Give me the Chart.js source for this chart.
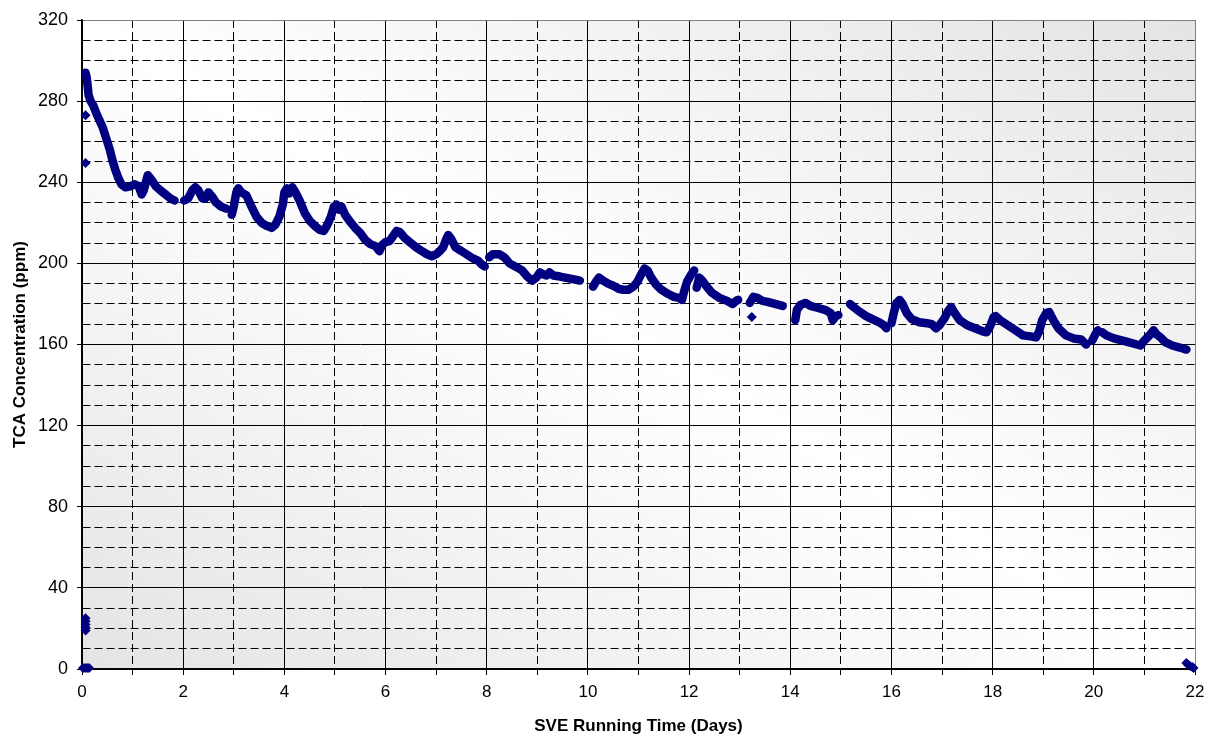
<!DOCTYPE html>
<html lang="en">
<head>
  <meta charset="UTF-8" />
  <title>TCA Concentration vs SVE Running Time</title>
  <script src="https://cdn.jsdelivr.net/npm/chart.js"></script>
  <style>
    body { margin: 0; background: #fff; }
  </style>
</head>
<body>
  <canvas id="tcaChart" width="1209" height="737"></canvas>

  <script>
    // Main logged trace (days, ppm); null marks a break in logging.
    const traceDays = [
      0.07, 0.09, 0.11, 0.13, 0.17, 0.22, 0.3, 0.41, 0.5, 0.55, 0.6, 0.66, 0.72, 0.78, 0.86, 0.95, 1.04, 1.12, 1.18, 1.22, 1.3, 1.38, 1.46, 1.55, 1.65, 1.75, 1.83, null,
      2.02, 2.1, 2.18, 2.24, 2.3, 2.38, 2.44, 2.5, 2.57, 2.65, 2.75, 2.85, null,
      2.96, 3.0, 3.05, 3.09, 3.15, 3.25, 3.35, 3.45, 3.55, 3.65, 3.75, 3.82, 3.9, 3.97, 4.0, 4.05, 4.1, 4.16, 4.22, 4.3, 4.4, 4.5, 4.6, 4.7, 4.78, 4.85, 4.92, 4.98, 5.03, 5.08, 5.13, 5.2, 5.3, 5.4, 5.5, 5.6, 5.7, 5.8, 5.88, 5.93, 6.0,
      6.08, 6.15, 6.22, 6.28, 6.38, 6.5, 6.6, 6.72, 6.82, 6.92, 7.0, 7.07, 7.14, 7.2, 7.24, 7.3, 7.38, 7.47, 7.6, 7.72, 7.82, 7.9, 7.96, null,
      8.05, 8.12, 8.25, 8.35, 8.45, 8.6, 8.7, 8.8, 8.9, 8.98, 9.05, 9.12, 9.18, 9.24, 9.32, 9.45, 9.55, 9.65, 9.75, 9.84, null,
      10.1, 10.16, 10.22, 10.3, 10.4, 10.5, 10.6, 10.7, 10.8, 10.9, 10.98, 11.05, 11.12, 11.18, 11.25, 11.35, 11.45, 11.58, 11.7, 11.8, 11.86, 11.9, 11.96, 12.04, 12.1, null,
      12.15, 12.2, 12.26, 12.35, 12.45, 12.6, 12.75, 12.86, 12.93, 12.97, null,
      13.2, 13.27, 13.35, 13.45, 13.55, 13.7, 13.85, null,
      14.1, 14.13, 14.2, 14.3, 14.4, 14.55, 14.7, 14.8, 14.84, 14.9, 14.95, null,
      15.18, 15.25, 15.35, 15.5, 15.62, 15.75, 15.85, 15.9, null,
      16.0, 16.05, 16.1, 16.16, 16.22, 16.3, 16.4, 16.55, 16.7, 16.8, 16.88, 16.95, 17.05, 17.12, 17.18, 17.25, 17.35, 17.5, 17.65, 17.8, 17.88, 17.95, 18.02, 18.06, 18.15, 18.3, 18.45, 18.6, 18.75, 18.86, 18.92, 18.98, 19.06, 19.12, 19.2, 19.3, 19.45, 19.6, 19.75, 19.85, null,
      19.97, 20.03, 20.08, null,
      20.17, 20.25, 20.4, 20.55, 20.7, 20.85, 20.92, 21.0, 21.1, 21.18, 21.24, 21.32, 21.42, 21.55, 21.7, 21.83
    ];
    const tracePpm = [
      294, 292, 288, 283, 280, 278, 273, 267, 260, 256, 251, 246, 242, 239, 237.5, 238, 239, 238, 234, 236, 243.5, 241, 238, 236, 234, 232, 231, null,
      231, 232, 236, 237.5, 236, 232, 232, 235, 233, 230, 228, 227, null,
      224, 228, 235, 237, 235, 233.5, 228, 223, 220, 218.5, 217.5, 219, 223, 229, 235, 237, 234.5, 237.5, 235, 231, 225, 221, 218.5, 216.5, 216, 219, 223, 228, 229, 226.5, 228, 224, 220.5, 217.5, 215, 211.5, 209.5, 208.5, 206, 209, 210.5,
      211, 213.5, 216, 215.5, 212.5, 210, 208, 206, 204.5, 203.5, 204.5, 206, 208, 212, 214, 212, 208, 206.5, 204.5, 202.5, 201.5, 199.5, 198.5, null,
      203, 204.5, 204.5, 203, 200, 198, 196.5, 193.5, 191.5, 193, 195.5, 194.5, 194, 195.5, 194, 193.5, 193, 192.5, 192, 191.5, null,
      188.5, 191, 193, 191.5, 190, 189, 187.5, 187, 187, 188.5, 191, 194.5, 197.5, 196.5, 193, 189.5, 187, 185, 183.5, 183, 182, 186, 191, 194.5, 196.5, null,
      188, 193, 191.5, 188.5, 185.5, 183, 181.5, 180, 181.5, 182, null,
      180.5, 183.5, 183, 181.5, 181, 180, 179, null,
      172, 177, 179.5, 180.5, 179, 178, 177, 175.5, 172, 174, 174.5, null,
      180, 178.5, 176.5, 174, 172.5, 171, 169.5, 168, null,
      170.5, 176, 180.5, 182, 180, 175.5, 172.5, 171, 170.5, 170, 168, 169.5, 173, 176.5, 178.5, 175.5, 172, 169.5, 168, 166.5, 166, 169, 173.5, 174, 172, 169.5, 167, 164.5, 164, 163.5, 166.5, 172, 175.5, 176, 172, 168, 164.5, 163, 162.5, 160, null,
      162, 165, 167, null,
      166, 164.5, 163, 162, 161, 160, 159.5, 162, 164.5, 167, 165, 163.5, 161, 159.5, 158.5, 157.5
    ];

    // Stray single readings (start-up, shutdown and spikes).
    const strayDays = [0.07, 0.07, 0.02, 0.06, 0.1, 0.14, 0.07, 0.07, 0.07, 0.07, 0.07, 13.24, 21.83, 21.87, 21.9, 21.95, 21.97];
    const strayPpm = [273, 249.5, 0.5, 0.5, 0.5, 0.5, 19, 20.5, 22, 23.5, 25, 173.5, 3, 2, 1.5, 1, 0.5];

    const xMax = 22;
    const yMax = 320;
    const markColor = "#000080";
    const fontFamily = "'Liberation Sans', Arial, sans-serif";

    const tracePoints = traceDays.map((d, i) => ({ x: d, y: tracePpm[i] }));
    const strayPoints = strayDays.map((d, i) => ({ x: d, y: strayPpm[i] }));

    // Excel-style diagonal grey/white fill behind the plot.
    const plotBackground = {
      id: "plotBackground",
      beforeDraw(chart) {
        const { ctx, chartArea } = chart;
        const { left, top, width, height } = chartArea;
        ctx.save();
        ctx.translate(left, top);
        ctx.scale(width, height);
        const g = ctx.createLinearGradient(0, 1, 1, 0);
        g.addColorStop(0, "#e4e4e4");
        g.addColorStop(0.5, "#ffffff");
        g.addColorStop(1, "#e4e4e4");
        ctx.fillStyle = g;
        ctx.fillRect(0, 0, 1, 1);
        ctx.restore();
      }
    };

    const ctx = document.getElementById("tcaChart").getContext("2d");
    new Chart(ctx, {
      type: "scatter",
      data: {
        datasets: [
          {
            label: "TCA",
            data: tracePoints,
            showLine: true,
            spanGaps: false,
            borderColor: markColor,
            borderWidth: 8.5,
            borderCapStyle: "round",
            borderJoinStyle: "round",
            pointRadius: 0,
            fill: false
          },
          {
            label: "Stray",
            data: strayPoints,
            showLine: false,
            pointStyle: "rectRot",
            pointRadius: 5,
            backgroundColor: markColor,
            borderColor: markColor,
            borderWidth: 0,
            clip: false
          }
        ]
      },
      options: {
        responsive: false,
        animation: false,
        devicePixelRatio: 1,
        layout: { padding: { top: 20, right: 14, left: 0, bottom: 0 } },
        plugins: {
          legend: { display: false },
          tooltip: { enabled: false }
        },
        scales: {
          x: {
            type: "linear",
            min: 0,
            max: xMax,
            afterFit: (scale) => {
              scale.height = 68;
              scale.paddingRight = 0; // let layout padding set the right edge
            },
            ticks: {
              stepSize: 1,
              autoSkip: false,
              maxRotation: 0,
              padding: 7,
              color: "#000",
              font: { family: fontFamily, size: 17 },
              callback: (v) => (v % 2 === 0 ? v : "")
            },
            grid: {
              color: (c) => (c.tick && c.tick.value === xMax ? "#808080" : "#000"),
              lineWidth: 1,
              tickLength: 6,
              tickColor: "#000"
            },
            border: {
              display: true,
              color: "#000",
              width: 1.5,
              dash: (c) => (c.tick && c.tick.value % 2 !== 0 ? [8, 4] : [])
            },
            title: {
              display: true,
              text: "SVE Running Time (Days)",
              color: "#000",
              font: { family: fontFamily, size: 17, weight: "bold" },
              padding: { top: 3, bottom: 0 }
            }
          },
          y: {
            min: 0,
            max: yMax,
            afterFit: (scale) => { scale.width = 82; },
            ticks: {
              stepSize: 10,
              autoSkip: false,
              padding: 9,
              color: "#000",
              font: { family: fontFamily, size: 18 },
              callback: (v) => (v % 40 === 0 ? v : "")
            },
            grid: {
              color: (c) => (c.tick && c.tick.value === yMax ? "#808080" : "#000"),
              lineWidth: 1,
              tickLength: 5,
              tickColor: (c) => (c.tick && c.tick.value % 40 === 0 ? "#000" : "rgba(0,0,0,0)")
            },
            border: {
              display: true,
              color: "#000",
              width: 1.5,
              dash: (c) => (c.tick && c.tick.value % 40 !== 0 ? [8, 4] : [])
            },
            title: {
              display: true,
              text: "TCA Concentration (ppm)",
              color: "#000",
              font: { family: fontFamily, size: 17, weight: "bold" },
              padding: { top: 10, bottom: 0 }
            }
          }
        }
      },
      plugins: [plotBackground]
    });
  </script>
</body>
</html>
